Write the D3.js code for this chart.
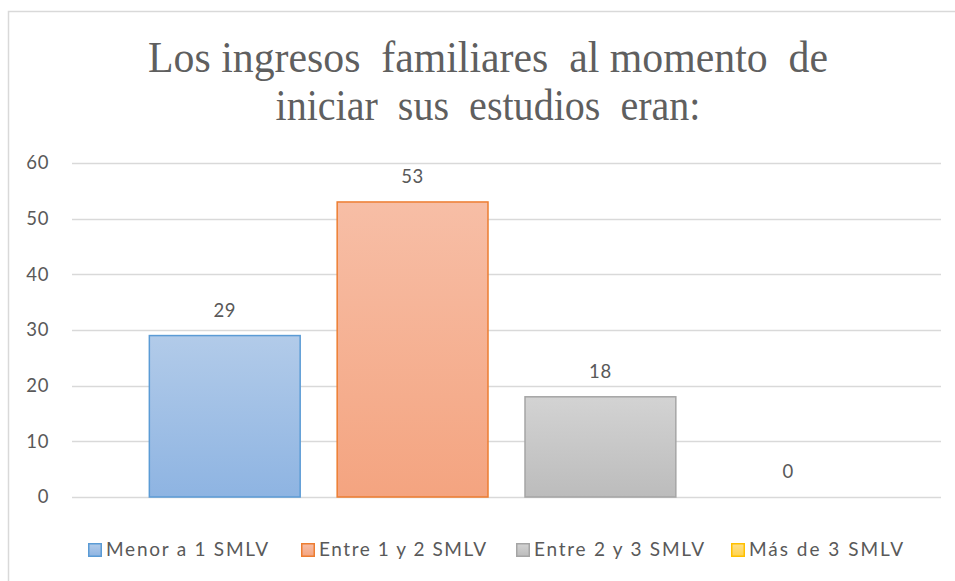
<!DOCTYPE html>
<html><head><meta charset="utf-8">
<script src="https://cdn.jsdelivr.net/npm/d3@7"></script>
<style>body{margin:0;background:#fff}svg{display:block}</style>
</head><body>
<svg id="c" width="955" height="581"></svg>
<script>
const titleLines = ["Los ingresos  familiares  al momento  de", "iniciar  sus  estudios  eran:"];
const categories = [""];
const seriesNames = ["Menor a 1 SMLV", "Entre 1 y 2 SMLV", "Entre 2 y 3 SMLV", "Más de 3 SMLV"];
const seriesValues = [29, 53, 18, 0];
const yTicks = [0, 10, 20, 30, 40, 50, 60];
const fillTop = ["#b2cbe9", "#f7bea6", "#d3d3d3", "#ffe08a"];
const fillBottom = ["#8eb4e2", "#f4a480", "#bcbcbc", "#ffd34f"];
const strokes = ["#5b9bd5", "#ed7d31", "#a5a5a5", "#ffc000"];

const svg = d3.select("#c");
const defs = svg.append("defs");
seriesNames.forEach((s, i) => {
  const g = defs.append("linearGradient").attr("id", "g" + i).attr("x1", 0).attr("y1", 0).attr("x2", 0).attr("y2", 1);
  g.append("stop").attr("offset", "0%").attr("stop-color", fillTop[i]);
  g.append("stop").attr("offset", "100%").attr("stop-color", fillBottom[i]);
});

// chart frame
svg.append("path").attr("d", "M8.5,590 V11.5 H960").attr("fill", "none").attr("stroke", "#d9d9d9").attr("stroke-width", 1.5);

// title (Times-like serif, slightly tall)
const titleLen = [680, 425];
const titleY = [72, 120];
svg.append("g").selectAll("text").data(titleLines).join("text")
  .style("font-family", "'Liberation Serif', 'Times New Roman', serif")
  .attr("font-size", 40).attr("fill", "#5f5f5f")
  .attr("transform", (d, i) => `translate(488,${titleY[i]}) scale(1,1.09)`)
  .attr("x", 0).attr("y", 0).attr("text-anchor", "middle")
  .attr("textLength", (d, i) => titleLen[i]).attr("lengthAdjust", "spacingAndGlyphs")
  .style("white-space", "pre").text(d => d);

const plotL = 72, plotR = 941;
const y = d3.scaleLinear().domain([0, 60]).range([497, 163]);
const x0 = d3.scaleBand().domain(categories).range([plotL, plotR]).paddingInner(0.178).paddingOuter(0);
const x1 = d3.scaleBand().domain(seriesNames).range([0, x0.bandwidth()]).paddingInner(0.197).paddingOuter(0);

// gridlines
svg.append("g").selectAll("line").data(yTicks).join("line")
  .attr("x1", plotL).attr("x2", plotR)
  .attr("y1", d => Math.round(y(d)) + 0.5).attr("y2", d => Math.round(y(d)) + 0.5)
  .attr("stroke", "#d9d9d9").attr("stroke-width", 1.3);

const sansFont = "Lato, 'Open Sans', sans-serif";
// y axis labels
const yAxis = d3.axisLeft(y).tickValues(yTicks).tickSize(0).tickPadding(0);
const ya = svg.append("g").attr("transform", "translate(49,0)").call(yAxis);
ya.select(".domain").remove();
ya.selectAll("text").attr("font-family", sansFont).attr("font-size", 18.5).attr("letter-spacing", 0.6).attr("fill", "#595959");

// bars
const bars = svg.append("g").attr("transform", `translate(${x0(categories[0])},0)`);
bars.selectAll("rect").data(seriesValues).join("rect")
  .attr("x", (d, i) => x1(seriesNames[i]))
  .attr("width", x1.bandwidth())
  .attr("y", d => y(d))
  .attr("height", d => y(0) - y(d))
  .attr("fill", (d, i) => `url(#g${i})`)
  .attr("stroke", (d, i) => d > 0 ? strokes[i] : "none")
  .attr("stroke-width", 1.5);

// data labels
bars.selectAll("text").data(seriesValues).join("text")
  .attr("x", (d, i) => x1(seriesNames[i]) + x1.bandwidth() / 2)
  .attr("y", d => y(d) - 19)
  .attr("text-anchor", "middle")
  .attr("font-family", sansFont).attr("font-size", 18.5).attr("letter-spacing", 0.6).attr("fill", "#595959")
  .text(d => d);

// legend
const leg = svg.append("g").attr("font-family", sansFont).attr("font-size", 19).attr("fill", "#595959");
const starts = [88, 301, 516, 731];
const textLens = [162, 167, 170, 154];
const items = leg.selectAll("g").data(seriesNames).join("g").attr("transform", (d, i) => `translate(${starts[i]},0)`);
items.append("rect").attr("x", 0.75).attr("y", 543.75).attr("width", 12.5).attr("height", 12.5)
  .attr("fill", (d, i) => `url(#g${i})`).attr("stroke", (d, i) => strokes[i]).attr("stroke-width", 1.5);
items.append("text").attr("x", 18).attr("y", 556)
  .attr("textLength", (d, i) => textLens[i]).attr("lengthAdjust", "spacing").text(d => d);
</script>
</body></html>
